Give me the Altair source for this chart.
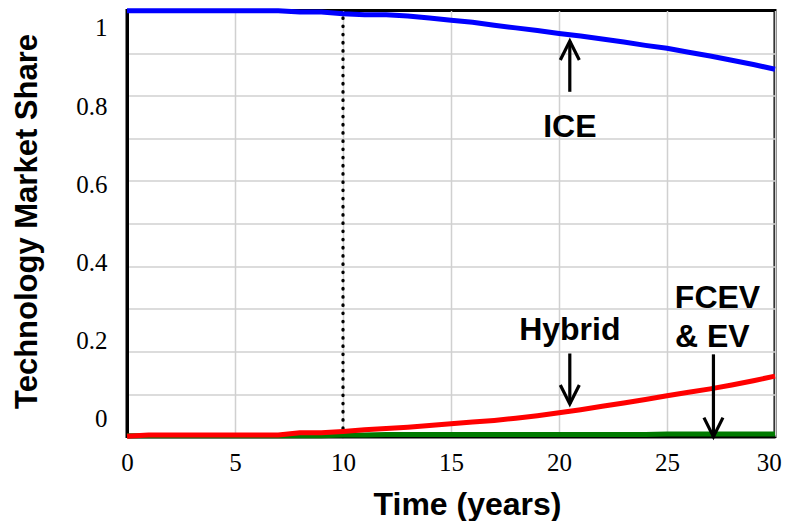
import altair as alt
import pandas as pd

# ---- data ----
years = [0, 1, 2, 3, 4, 5, 6, 7, 8, 9, 10, 11, 12, 13, 14, 15, 16, 17, 18, 19, 20,
         21, 22, 23, 24, 25, 26, 27, 28, 29, 30]
ice = [0.999, 0.999, 0.999, 0.999, 0.999, 0.999, 0.999, 0.999, 0.996, 0.996, 0.992,
       0.990, 0.990, 0.987, 0.982, 0.977, 0.972, 0.965, 0.959, 0.953, 0.946,
       0.940, 0.933, 0.926, 0.918, 0.911, 0.902, 0.893, 0.883, 0.873, 0.862]
hybrid = [0.001, 0.004, 0.004, 0.004, 0.004, 0.004, 0.004, 0.004, 0.009, 0.009, 0.012,
          0.016, 0.019, 0.022, 0.026, 0.030, 0.034, 0.038, 0.043, 0.049, 0.056,
          0.063, 0.071, 0.079, 0.087, 0.096, 0.104, 0.112, 0.121, 0.131, 0.142]
fcev_ev = [0.002, 0.002, 0.002, 0.002, 0.002, 0.002, 0.002, 0.002, 0.002, 0.002, 0.004,
           0.004, 0.005, 0.005, 0.005, 0.005, 0.005, 0.005, 0.005, 0.005, 0.005,
           0.005, 0.005, 0.005, 0.005, 0.006, 0.006, 0.006, 0.006, 0.006, 0.006]

x_ticks = [0, 5, 10, 15, 20, 25, 30]
y_grid = [0.1, 0.2, 0.3, 0.4, 0.5, 0.6, 0.7, 0.8, 0.9]
y_labels = [0, 0.2, 0.4, 0.6, 0.8, 1]

policy_year = [10]

annot_text = ["ICE", "Hybrid", "FCEV", "& EV"]
annot_x = [20.5, 20.5, 27.34, 27.1]
annot_y = [0.703, 0.2267, 0.301, 0.211]

arrow_x = [20.5, 20.5, 27.15]
arrow_from = [0.809, 0.195, 0.193]
arrow_tip = [0.928, 0.0765, 0.0]
arrow_dir = ["up", "down", "down"]

# ---- tables ----
df_ice = pd.DataFrame({"t": years, "v": ice})
df_hyb = pd.DataFrame({"t": years, "v": hybrid})
df_fc = pd.DataFrame({"t": years, "v": fcev_ev})
df_pol = pd.DataFrame({"t": policy_year, "y0": [0.0], "y1": [1.0]})
df_annot = pd.DataFrame({"t": annot_x, "v": annot_y, "label": annot_text})
df_arrow = pd.DataFrame({"t": arrow_x, "y0": arrow_from, "y1": arrow_tip, "dir": arrow_dir})
df_ylab = pd.DataFrame({"v": y_labels})

XSCALE = alt.Scale(domain=[0, 30], nice=False, zero=False)
YSCALE = alt.Scale(domain=[0, 1], nice=False, zero=False)

x_axis = alt.Axis(
    values=x_ticks, grid=True, gridColor="#d0d0d0", gridWidth=1.5,
    ticks=False, tickSize=0, domain=True, domainColor="black", domainWidth=3,
    labelFont="Liberation Serif", labelFontSize=25, labelColor="black",
    labelPadding=14, labelFlush=True, labelFlushOffset=6.25, labelOverlap=False,
    title="Time (years)", titleFont="Liberation Sans", titleFontWeight="bold",
    titleFontSize=32, titleColor="black", titleX=340, titleY=77.5,
    titleAlign="center", titleBaseline="alphabetic",
)
y_axis = alt.Axis(
    orient="right", values=y_grid, grid=True, gridColor="#d0d0d0", gridWidth=1.5,
    labels=False, ticks=False, domain=False, title=None,
)

X = alt.X("t:Q", scale=XSCALE, axis=x_axis)
Y = alt.Y("v:Q", scale=YSCALE, axis=y_axis)

green_line = alt.Chart(df_fc).mark_line(color="#007a00", strokeWidth=5, clip=False).encode(x=X, y=Y)
red_line = alt.Chart(df_hyb).mark_line(color="#ff0000", strokeWidth=5, clip=False).encode(x=X, y=Y)
blue_line = alt.Chart(df_ice).mark_line(color="#0000ff", strokeWidth=5, clip=False).encode(x=X, y=Y)

policy = alt.Chart(df_pol).mark_rule(
    color="black", strokeWidth=3.3, strokeDash=[0.5, 7.7], strokeCap="round"
).encode(x=alt.X("t:Q", scale=XSCALE), y=alt.Y("y0:Q", scale=YSCALE), y2="y1:Q")

texts = alt.Chart(df_annot).mark_text(
    font="Liberation Sans", fontWeight="bold", fontSize=32, color="black",
    align="center", baseline="alphabetic"
).encode(x=alt.X("t:Q", scale=XSCALE), y=alt.Y("v:Q", scale=YSCALE), text="label:N")

shafts = alt.Chart(df_arrow).mark_rule(color="black", strokeWidth=3.2).encode(
    x=alt.X("t:Q", scale=XSCALE), y=alt.Y("y0:Q", scale=YSCALE), y2="y1:Q"
)
heads = alt.Chart(df_arrow).mark_point(
    filled=False, stroke="black", strokeWidth=3.2, size=361, opacity=1
).encode(
    x=alt.X("t:Q", scale=XSCALE),
    y=alt.Y("y1:Q", scale=YSCALE),
    shape=alt.Shape(
        "dir:N",
        scale=alt.Scale(domain=["up", "down"],
                        range=["M -1 2 L 0 0 L 1 2", "M -1 -2 L 0 0 L 1 -2"]),
        legend=None,
    ),
)

main = alt.layer(policy, green_line, red_line, blue_line, shafts, heads, texts)

label_layer = alt.Chart(df_ylab).mark_point(opacity=0).encode(
    x=alt.value(0),
    y=alt.Y(
        "v:Q",
        scale=alt.Scale(domain=[-0.046, 1.045], nice=False, zero=False),
        axis=alt.Axis(
            orient="left", values=y_labels, format="~g", grid=False,
            ticks=False, tickSize=0, domain=True, domainColor="black", domainWidth=3,
            labelFont="Liberation Serif", labelFontSize=25, labelColor="black",
            labelPadding=20, labelFlush=False, labelOverlap=False, labelBaseline="middle",
            title="Technology Market Share", titleFont="Liberation Sans",
            titleFontWeight="bold", titleFontSize=31, titleColor="black",
            titleAngle=270, titleX=-91, titleY=210.6, titleAlign="center",
            titleBaseline="alphabetic",
        ),
    ),
)

chart = alt.layer(main, label_layer).resolve_scale(y="independent").properties(
    width=648, height=426.2,
    padding={"left": 119, "top": 2.4, "right": 8, "bottom": 84.4},
    autosize=alt.AutoSizeParams(type="none"),
    background="white",
).configure_view(stroke="black", strokeWidth=3)

chart.save("out.html", embed_options={"renderer": "svg", "actions": False})
